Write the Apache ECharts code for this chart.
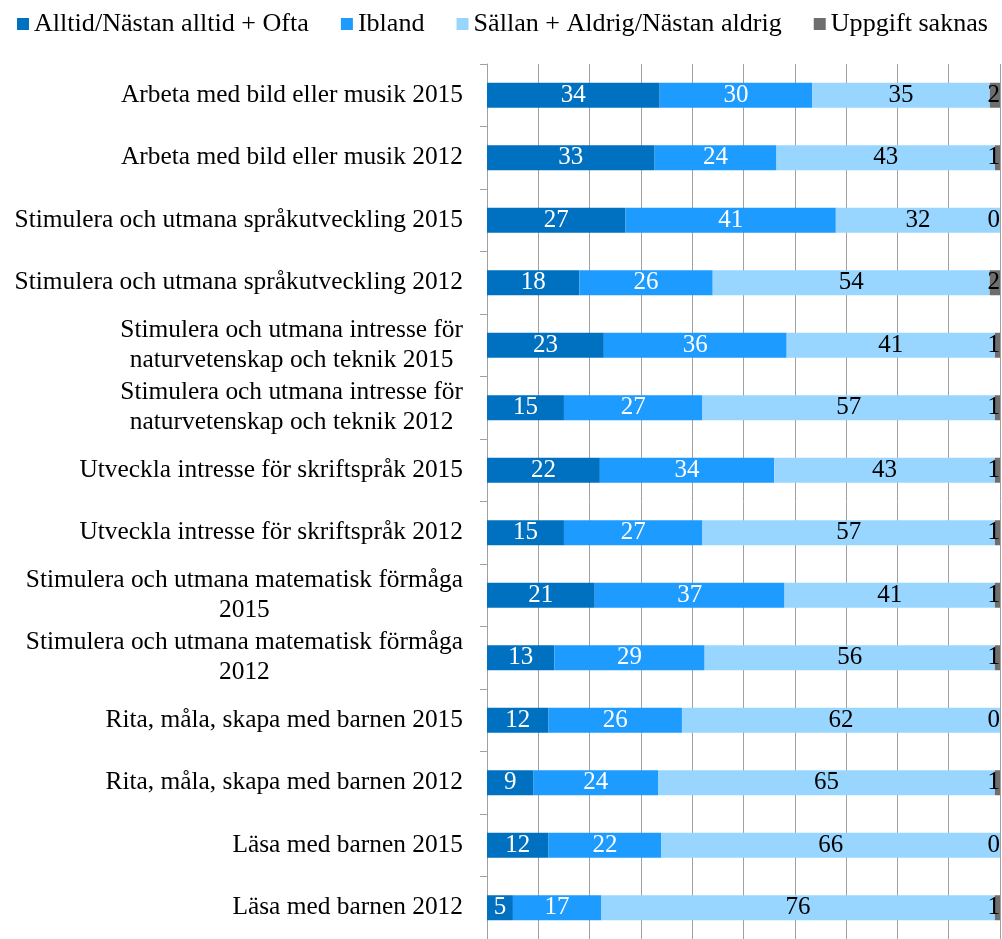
<!DOCTYPE html>
<html>
<head>
<meta charset="utf-8">
<script src="https://cdn.jsdelivr.net/npm/echarts@6/dist/echarts.min.js"></script>
<style>
html,body{margin:0;padding:0;background:#fff;}
#chart{width:1002px;height:939px;}
</style>
</head>
<body>
<div id="chart"></div>
<script>
const categories = [
  "Arbeta med bild eller musik 2015",
  "Arbeta med bild eller musik 2012",
  "Stimulera och utmana språkutveckling 2015",
  "Stimulera och utmana språkutveckling 2012",
  "Stimulera och utmana intresse för\nnaturvetenskap och teknik 2015",
  "Stimulera och utmana intresse för\nnaturvetenskap och teknik 2012",
  "Utveckla intresse för skriftspråk 2015",
  "Utveckla intresse för skriftspråk 2012",
  "Stimulera och utmana matematisk förmåga\n2015",
  "Stimulera och utmana matematisk förmåga\n2012",
  "Rita, måla, skapa med barnen 2015",
  "Rita, måla, skapa med barnen 2012",
  "Läsa med barnen 2015",
  "Läsa med barnen 2012"
];
const seriesNames = ["Alltid/Nästan alltid + Ofta", "Ibland", "Sällan + Aldrig/Nästan aldrig", "Uppgift saknas"];
const often   = [34, 33, 27, 18, 23, 15, 22, 15, 21, 13, 12, 9, 12, 5];
const sometimes = [30, 24, 41, 26, 36, 27, 34, 27, 37, 29, 26, 24, 22, 17];
const rarely  = [35, 43, 32, 54, 41, 57, 43, 57, 41, 56, 62, 65, 66, 76];
const missing = [2, 1, 0, 2, 1, 1, 1, 1, 1, 1, 0, 1, 0, 1];

const colors = ['#0070C0', '#1D9BFF', '#99D6FF', '#6E6E6E'];
const labelColors = ['#ffffff', '#ffffff', '#000000', '#000000'];
const labelPos = ['inside', 'inside', 'inside', 'insideRight'];
const FONT = "'Liberation Serif', 'Times New Roman', serif";

const raw = [often, sometimes, rarely, missing];
const totals = categories.map((_, i) => raw.reduce((s, arr) => s + arr[i], 0));

const series = raw.map((arr, k) => ({
  name: seriesNames[k],
  type: 'bar',
  stack: 'total',
  barWidth: 25,
  itemStyle: { color: colors[k] },
  label: {
    show: true,
    position: labelPos[k],
    distance: 0,
    color: labelColors[k],
    fontFamily: FONT,
    fontSize: 25,
    formatter: p => String(arr[p.dataIndex])
  },
  data: arr.map((v, i) => v / totals[i] * 100)
}));

const chart = echarts.init(document.getElementById('chart'), null, { renderer: 'canvas' });
chart.setOption({
  animation: false,
  color: colors,
  legend: {
    left: 12,
    top: 6,
    icon: 'rect',
    itemWidth: 12,
    itemHeight: 12,
    itemGap: 32,
    textStyle: { fontFamily: FONT, fontSize: 26.1, color: '#000' },
    data: seriesNames
  },
  grid: { left: 487, right: 2, top: 64, bottom: -9, containLabel: false },
  xAxis: {
    type: 'value',
    min: 0,
    max: 100,
    interval: 10,
    axisLabel: { show: false },
    axisLine: { show: false },
    axisTick: { show: false },
    splitLine: { show: true, lineStyle: { color: '#A0A0A0', width: 1 } }
  },
  yAxis: {
    type: 'category',
    inverse: true,
    data: categories,
    axisLine: { show: true, lineStyle: { color: '#A0A0A0', width: 1 } },
    axisTick: { show: true, length: 7, lineStyle: { color: '#A0A0A0' } },
    axisLabel: {
      margin: 24,
      formatter: v => v.split('\n').map(l => '{c|' + l + '}').join('\n'),
      rich: {
        c: { align: 'center', fontFamily: FONT, fontSize: 25.4, color: '#000', lineHeight: 30 }
      }
    }
  },
  series: series
});
</script>
</body>
</html>
